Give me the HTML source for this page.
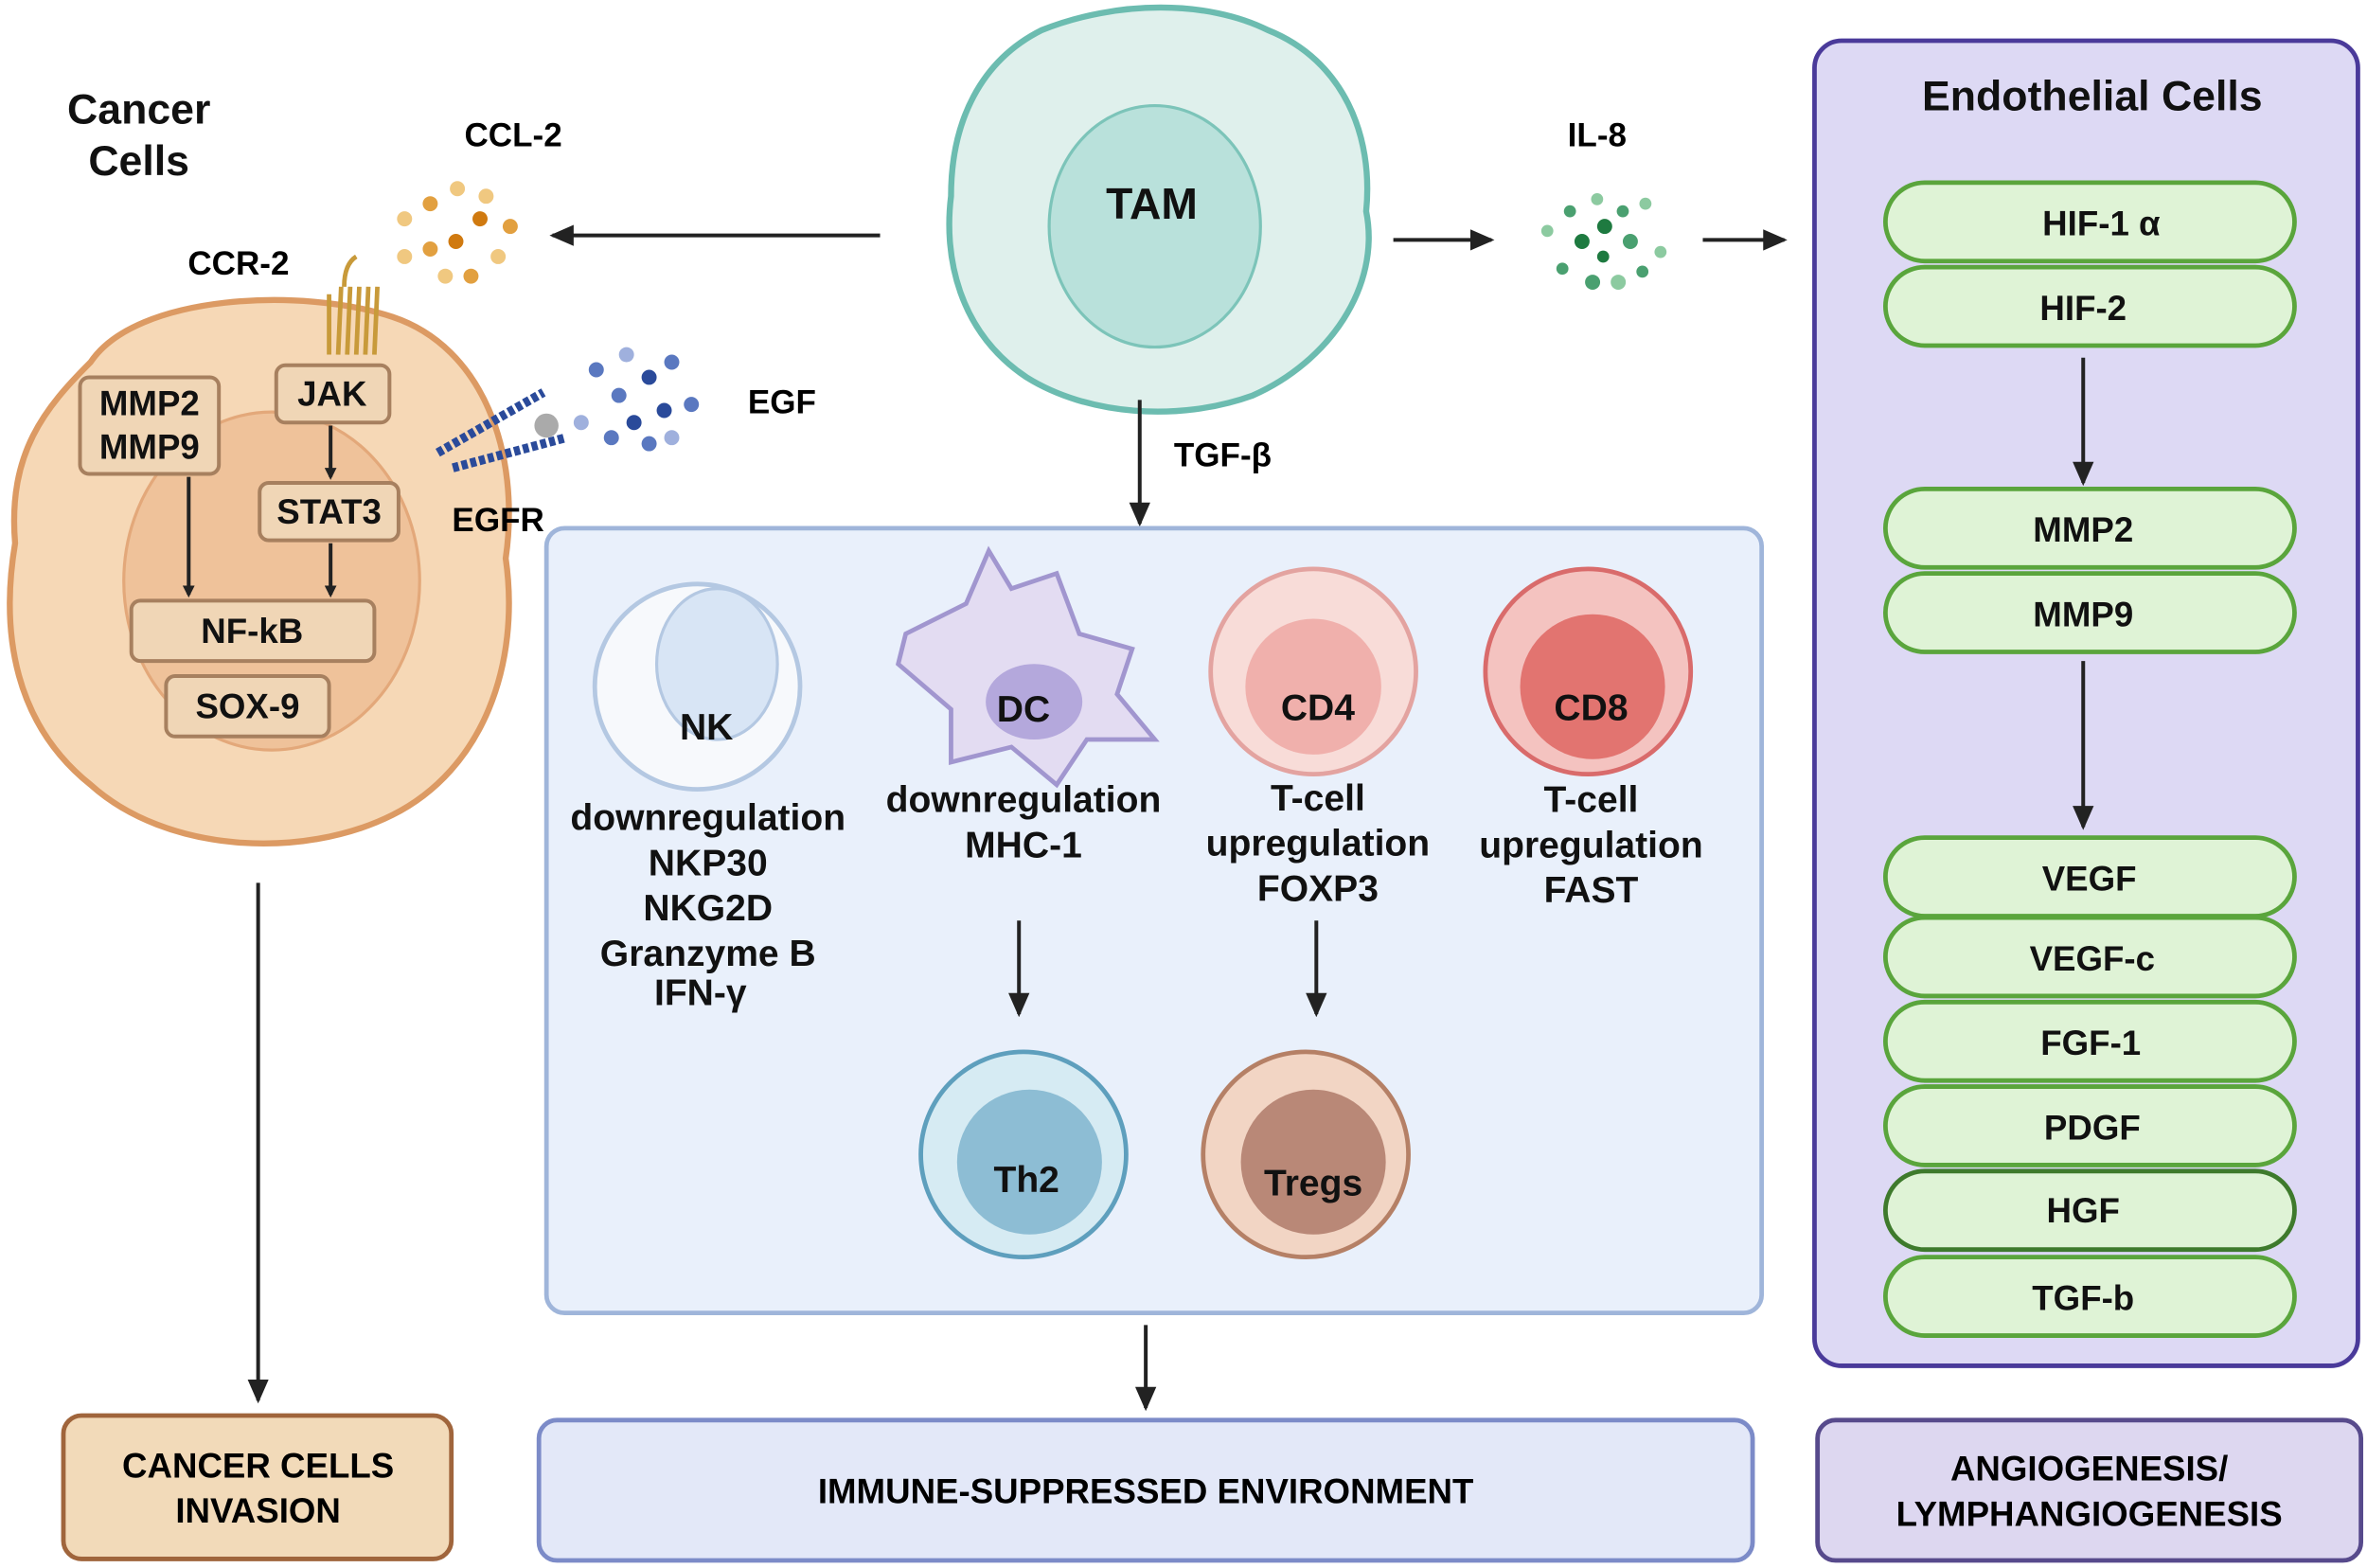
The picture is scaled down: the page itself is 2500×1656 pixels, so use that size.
<!DOCTYPE html>
<html><head><meta charset="utf-8"><style>html,body{margin:0;padding:0;background:#fff}svg{display:block}</style></head>
<body>
<svg width="2500" height="1656" viewBox="0 0 1568 1039" preserveAspectRatio="none" xmlns="http://www.w3.org/2000/svg" font-family="Liberation Sans, DejaVu Sans, sans-serif" font-weight="bold">
<defs>
<marker id="ar" markerWidth="8" markerHeight="8" refX="6" refY="4" orient="auto" markerUnits="userSpaceOnUse" viewBox="0 0 8 8"><path d="M0,0 L8,4 L0,8 z" fill="#222"/></marker>
<marker id="ar2" markerWidth="16" markerHeight="16" refX="14" refY="8" orient="auto" markerUnits="userSpaceOnUse" viewBox="0 0 16 16"><path d="M0,1 L16,8 L0,15 z" fill="#222"/></marker>
</defs>
<rect width="1568" height="1039" fill="#fff"/>

<text x="92" y="82" font-size="28" text-anchor="middle" fill="#111">Cancer</text>
<text x="92" y="116" font-size="28" text-anchor="middle" fill="#111">Cells</text>
<text x="340" y="97" font-size="22" text-anchor="middle">CCL-2</text>
<text x="158" y="182" font-size="22" text-anchor="middle">CCR-2</text>
<path d="M60,240 C90,195 200,190 260,210 C320,230 345,300 335,370 C345,440 320,510 260,540 C200,570 110,565 60,520 C10,480 0,420 10,360 C5,300 30,270 60,240 Z" fill="#f6d8b6" stroke="#dc9a63" stroke-width="4"/>
<ellipse cx="180" cy="385" rx="98" ry="112" fill="#efc29a" stroke="#e3a87a" stroke-width="2"/>
<g fill="#f0d6b6" stroke="#a7805f" stroke-width="2.5">
<rect x="53" y="250" width="92" height="64" rx="6"/>
<rect x="183" y="242" width="75" height="38" rx="6"/>
<rect x="172" y="320" width="92" height="38" rx="6"/>
<rect x="87" y="398" width="161" height="40" rx="6"/>
<rect x="110" y="448" width="108" height="40" rx="6"/>
</g>
<g font-size="23" text-anchor="middle" fill="#111">
<text x="99" y="275">MMP2</text><text x="99" y="304">MMP9</text>
<text x="220" y="269">JAK</text>
<text x="218" y="347">STAT3</text>
<text x="167" y="426">NF-kB</text>
<text x="164" y="476">SOX-9</text>
</g>
<g stroke="#222" stroke-width="2.5" fill="none" marker-end="url(#ar)">
<line x1="125" y1="316" x2="125" y2="394"/>
<line x1="219" y1="282" x2="219" y2="316"/>
<line x1="219" y1="360" x2="219" y2="394"/>
</g>
<g stroke="#c89a3a" stroke-width="3" fill="none">
<path d="M218,235 L218,195 M224,235 L226,190 M230,235 L232,190 M236,235 L238,190 M242,235 L244,190 M248,235 L250,190"/>
<path d="M228,190 q0,-15 8,-20"/>
</g>
<g stroke="#2a4a9a" stroke-width="6" stroke-dasharray="4 2" fill="none">
<line x1="290" y1="300" x2="360" y2="260"/><line x1="300" y1="310" x2="375" y2="290"/>
</g>
<circle cx="362" cy="282" r="8" fill="#aaa"/>
<text x="330" y="352" font-size="22" text-anchor="middle">EGFR</text>
<text x="518" y="274" font-size="22" text-anchor="middle">EGF</text>
<g fill="#5a78c0">
<circle cx="395" cy="245" r="5"/><circle cx="410" cy="262" r="5"/><circle cx="430" cy="250" r="5" fill="#2a4a9a"/><circle cx="445" cy="240" r="5"/><circle cx="420" cy="280" r="5" fill="#2a4a9a"/><circle cx="440" cy="272" r="5" fill="#2a4a9a"/><circle cx="458" cy="268" r="5"/><circle cx="405" cy="290" r="5"/><circle cx="430" cy="294" r="5"/><circle cx="445" cy="290" r="5" fill="#9fb0dd"/><circle cx="385" cy="280" r="5" fill="#9fb0dd"/><circle cx="415" cy="235" r="5" fill="#9fb0dd"/>
</g>
<g fill="#e2a040">
<circle cx="268" cy="145" r="5" fill="#f0c880"/><circle cx="285" cy="135" r="5"/><circle cx="303" cy="125" r="5" fill="#f0c880"/><circle cx="318" cy="145" r="5" fill="#d07a10"/><circle cx="302" cy="160" r="5" fill="#d07a10"/><circle cx="285" cy="165" r="5"/><circle cx="295" cy="183" r="5" fill="#f0c880"/><circle cx="312" cy="183" r="5"/><circle cx="330" cy="170" r="5" fill="#f0c880"/><circle cx="338" cy="150" r="5"/><circle cx="322" cy="130" r="5" fill="#f0c880"/><circle cx="268" cy="170" r="5" fill="#f0c880"/>
</g>
<line x1="583" y1="156" x2="366" y2="156" stroke="#222" stroke-width="2.5" marker-end="url(#ar2)"/>

<path d="M690,20 C740,0 800,0 840,20 C890,40 910,90 905,140 C915,190 880,240 830,262 C780,280 720,275 680,250 C635,220 625,170 630,130 C630,80 650,40 690,20 Z" fill="#dff0ec" stroke="#6cbcb0" stroke-width="4"/>
<ellipse cx="765" cy="150" rx="70" ry="80" fill="#b9e1db" stroke="#7cc4b9" stroke-width="2"/>
<text x="763" y="145" font-size="29" text-anchor="middle" fill="#111">TAM</text>
<line x1="923" y1="159" x2="988" y2="159" stroke="#222" stroke-width="2.5" marker-end="url(#ar2)"/>
<line x1="1128" y1="159" x2="1182" y2="159" stroke="#222" stroke-width="2.5" marker-end="url(#ar2)"/>
<text x="1058" y="97" font-size="22" text-anchor="middle">IL-8</text>
<g fill="#4aa070">
<circle cx="1025" cy="153" r="4" fill="#8ccaa0"/><circle cx="1040" cy="140" r="4"/><circle cx="1058" cy="132" r="4" fill="#8ccaa0"/><circle cx="1075" cy="140" r="4"/><circle cx="1090" cy="135" r="4" fill="#8ccaa0"/><circle cx="1048" cy="160" r="5" fill="#1e7a40"/><circle cx="1063" cy="150" r="5" fill="#1e7a40"/><circle cx="1080" cy="160" r="5"/><circle cx="1100" cy="167" r="4" fill="#8ccaa0"/><circle cx="1035" cy="178" r="4"/><circle cx="1055" cy="187" r="5"/><circle cx="1072" cy="187" r="5" fill="#8ccaa0"/><circle cx="1088" cy="180" r="4"/><circle cx="1062" cy="170" r="4" fill="#1e7a40"/>
</g>
<text x="810" y="309" font-size="22" text-anchor="middle">TGF-β</text>
<line x1="755" y1="265" x2="755" y2="347" stroke="#222" stroke-width="2.5" marker-end="url(#ar2)"/>

<rect x="362" y="350" width="805" height="520" rx="12" fill="#e9f0fb" stroke="#9fb5da" stroke-width="3"/>
<circle cx="462" cy="455" r="68" fill="#f7f9fc" stroke="#b4c8e2" stroke-width="3"/>
<ellipse cx="475" cy="440" rx="40" ry="50" fill="#d8e5f5" stroke="#b4c8e2" stroke-width="2"/>
<path d="M600,420 L640,400 L655,365 L670,390 L700,380 L715,420 L750,430 L740,460 L765,490 L720,490 L700,520 L670,495 L630,505 L630,470 L595,440 Z" fill="#e3dcf2" stroke="#a196cf" stroke-width="3"/>
<ellipse cx="685" cy="465" rx="32" ry="25" fill="#b4a8dc"/>
<circle cx="870" cy="445" r="68" fill="#f8dcd8" stroke="#e3a3a0" stroke-width="3"/>
<circle cx="870" cy="455" r="45" fill="#f0b0ac"/>
<circle cx="1052" cy="445" r="68" fill="#f4c3c0" stroke="#d96b6b" stroke-width="3"/>
<circle cx="1055" cy="455" r="48" fill="#e27470"/>
<circle cx="678" cy="765" r="68" fill="#d6ebf3" stroke="#5e9fbd" stroke-width="3"/>
<circle cx="682" cy="770" r="48" fill="#8dbdd4"/>
<circle cx="865" cy="765" r="68" fill="#f2d5c4" stroke="#b58066" stroke-width="3"/>
<circle cx="870" cy="770" r="48" fill="#b98877"/>
<g font-size="24.5" text-anchor="middle" fill="#111">
<text x="468" y="490">NK</text>
<text x="678" y="478">DC</text>
<text x="873" y="477">CD4</text>
<text x="1054" y="477">CD8</text>
<text x="680" y="790">Th2</text>
<text x="870" y="792">Tregs</text>
<text x="469" y="550">downregulation</text><text x="469" y="580">NKP30</text><text x="469" y="610">NKG2D</text><text x="469" y="640">Granzyme B</text><text x="464" y="666">IFN-γ</text>
<text x="678" y="538">downregulation</text><text x="678" y="568">MHC-1</text>
<text x="873" y="537">T-cell</text><text x="873" y="567">upregulation</text><text x="873" y="597">FOXP3</text>
<text x="1054" y="538">T-cell</text><text x="1054" y="568">upregulation</text><text x="1054" y="598">FAST</text>
</g>
<g stroke="#222" stroke-width="2.5" marker-end="url(#ar2)">
<line x1="675" y1="610" x2="675" y2="672"/>
<line x1="872" y1="610" x2="872" y2="672"/>
<line x1="759" y1="878" x2="759" y2="933"/>
<line x1="171" y1="585" x2="171" y2="928"/>
</g>

<rect x="42" y="938" width="257" height="95" rx="12" fill="#f2dab9" stroke="#a0653c" stroke-width="3"/>
<text x="171" y="979" font-size="23" text-anchor="middle">CANCER CELLS</text>
<text x="171" y="1009" font-size="23" text-anchor="middle">INVASION</text>
<rect x="357" y="941" width="804" height="93" rx="12" fill="#e3e8f8" stroke="#7c8bc8" stroke-width="3"/>
<text x="759" y="996" font-size="23" text-anchor="middle">IMMUNE-SUPPRESSED ENVIRONMENT</text>
<rect x="1204" y="941" width="360" height="93" rx="12" fill="#ddd7f0" stroke="#574a8c" stroke-width="3"/>
<text x="1384" y="981" font-size="23" text-anchor="middle">ANGIOGENESIS/</text>
<text x="1384" y="1011" font-size="23" text-anchor="middle">LYMPHANGIOGENESIS</text>

<rect x="1202" y="27" width="360" height="878" rx="18" fill="#ddd9f4" stroke="#4a3a9a" stroke-width="3"/>
<text x="1386" y="73" font-size="28" text-anchor="middle" fill="#111">Endothelial Cells</text>
<g fill="#dff3d6" stroke="#5aa53c" stroke-width="3">
<rect x="1249" y="121" width="271" height="52" rx="26"/>
<rect x="1249" y="177" width="271" height="52" rx="26"/>
<rect x="1249" y="324" width="271" height="52" rx="26"/>
<rect x="1249" y="380" width="271" height="52" rx="26"/>
<rect x="1249" y="555" width="271" height="52" rx="26"/>
<rect x="1249" y="608" width="271" height="52" rx="26"/>
<rect x="1249" y="664" width="271" height="52" rx="26"/>
<rect x="1249" y="720" width="271" height="52" rx="26"/>
<rect x="1249" y="776" width="271" height="52" rx="26" stroke="#3e7a2c"/>
<rect x="1249" y="833" width="271" height="52" rx="26"/>
</g>
<g font-size="23" text-anchor="middle" fill="#111">
<text x="1392" y="156">HIF-1 α</text>
<text x="1380" y="212">HIF-2</text>
<text x="1380" y="359">MMP2</text>
<text x="1380" y="415">MMP9</text>
<text x="1384" y="590">VEGF</text>
<text x="1386" y="643">VEGF-c</text>
<text x="1385" y="699">FGF-1</text>
<text x="1386" y="755">PDGF</text>
<text x="1380" y="810">HGF</text>
<text x="1380" y="868">TGF-b</text>
</g>
<g stroke="#222" stroke-width="2.5" marker-end="url(#ar2)">
<line x1="1380" y1="237" x2="1380" y2="320"/>
<line x1="1380" y1="438" x2="1380" y2="548"/>
</g>
</svg>
</body></html>
